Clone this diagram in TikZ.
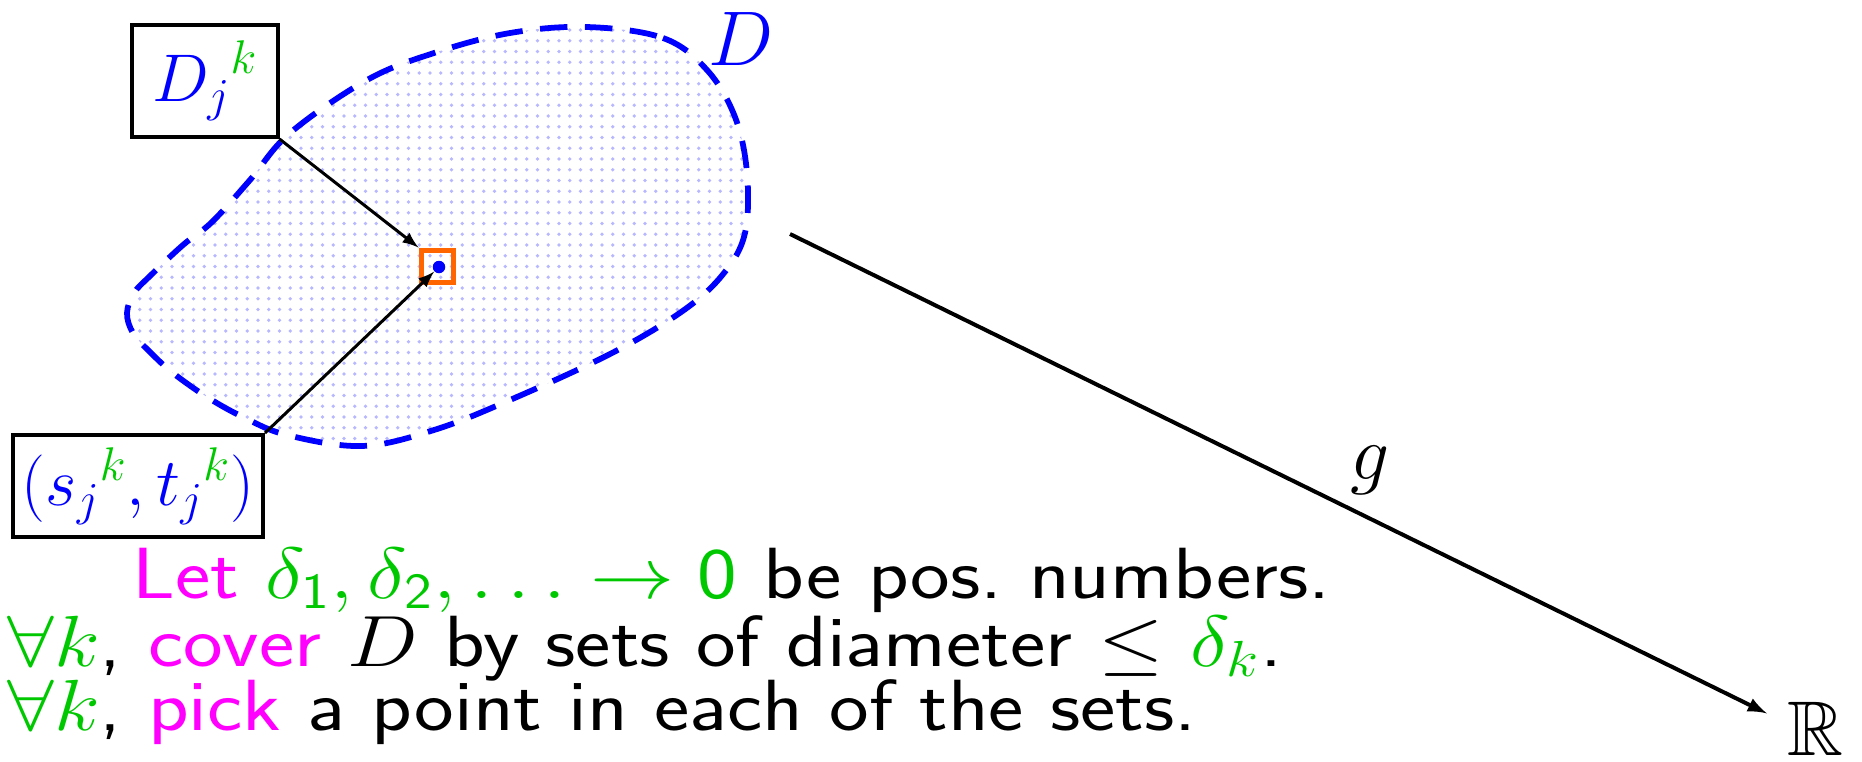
\RequirePackage{fix-cm}
\documentclass[tikz,border=0pt]{standalone}
\usepackage{amssymb}
\usepackage{graphicx}
\usetikzlibrary{patterns.meta}
\definecolor{pgreen}{RGB}{0,200,0}
\definecolor{pmagenta}{RGB}{255,0,255}
\definecolor{porange}{RGB}{255,102,0}
\newcommand{\wide}[1]{\scalebox{1.16}[1]{#1}}

\begin{document}
\begin{tikzpicture}[x=0.4pt, y=-0.4pt,
    labelbox/.style={draw, line width=1.6pt, inner sep=0pt, font=\fontsize{27}{32}\selectfont},
    textline/.style={anchor=base west, inner sep=0pt, font=\fontsize{29}{32}\selectfont\sffamily},
    biglabel/.style={anchor=base west, inner sep=0pt, font=\fontsize{31}{37}\selectfont},
    pointer/.style={-latex, line width=1.2pt}]
    \useasboundingbox (0,0) rectangle (1862,761);

    % область D
    \draw[blue, line width=2.3pt, dash pattern=on 11pt off 7pt,
          pattern={Dots[distance=4.3pt, radius=0.75pt]}, pattern color=blue!28]
      plot[smooth cycle, tension=0.6] coordinates {(587,27) (663,38) (707,70) (735,117)
        (747,173) (745,233) (724,273) (684,310) (612,353) (510,400) (434,430) (362,446)
        (287,435) (243,417) (207,397) (173,373) (150,352) (133,333) (127,313) (134,293)
        (150,276) (183,245) (212,222) (250,180) (290,133) (367,80) (434,53) (510,33)};
    \node[biglabel, text=blue] (dlab) at (708,65) {$D$};

    \node[labelbox, minimum width=58pt, minimum height=44.8pt] (djk) at (205,81)
      {$\color{blue}{D_j}^{\color{pgreen}k}$};
    \node[labelbox, minimum width=100pt, minimum height=40.8pt] (stk) at (138,486)
      {$\color{blue}({s_j}^{\color{pgreen}k},{t_j}^{\color{pgreen}k})$};

    \node[draw=porange, line width=2pt, minimum size=12.8pt, inner sep=0pt] (pick) at (437,266) {};
    \node[circle, fill=blue, minimum size=5pt, inner sep=0pt] (pt) at (439,267) {};
    \draw[pointer] (djk.south east) -- (pick.north west);
    \draw[pointer] (stk.north east) -- (pt);

    % отображение g
    \coordinate (gfrom) at (790,234);
    \node[biglabel] (reals) at (1787,755) {$\mathbb{R}$};
    \draw[-latex, line width=1.6pt, shorten >=9pt] (gfrom) -- (reals.170);
    \node[biglabel] (glab) at (1350,479) {$g$};

    \node[textline] (l1) at (132,598) {\wide{\textcolor{pmagenta}{Let}
      \textcolor{pgreen}{$\delta_{\mathsf{1}},\delta_{\mathsf{2}},\ldots\to\mathsf{0}$} be pos.\ numbers.}};
    \node[textline] (l2) at (7,666) {\wide{\textcolor{pgreen}{$\forall k$}, \textcolor{pmagenta}{cover}
      $D$ by sets of diameter $\le$ \textcolor{pgreen}{$\delta_k$}.}};
    \node[textline] (l3) at (7,730) {\wide{\textcolor{pgreen}{$\forall k$}, \textcolor{pmagenta}{pick}
      a point in each of the sets.}};
\end{tikzpicture}
\end{document}
